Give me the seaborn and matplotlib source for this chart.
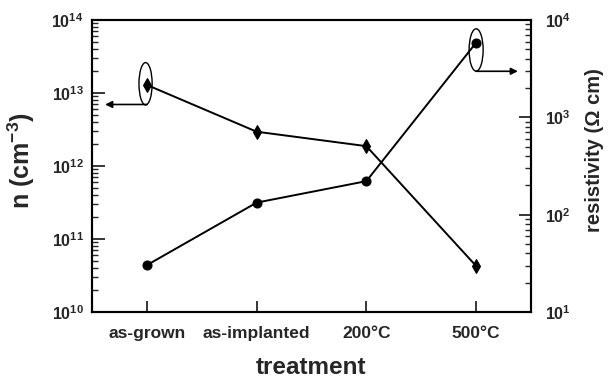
import matplotlib
matplotlib.use("Agg")
import matplotlib.pyplot as plt
import seaborn as sns
import pandas as pd
from matplotlib.patches import Ellipse
from matplotlib.ticker import LogLocator

treatments = ["as-grown", "as-implanted", "200°C", "500°C"]
carrier_n = [1.29e13, 2.95e12, 1.87e12, 4.27e10]
resistivity = [30.3, 133, 221, 5850]

sns.set_style("ticks")
plt.rcParams["font.family"] = ["Liberation Sans", "DejaVu Sans"]
plt.rcParams["font.weight"] = "bold"
plt.rcParams["mathtext.fontset"] = "custom"
plt.rcParams["mathtext.rm"] = "Liberation Sans:bold"
plt.rcParams["mathtext.bf"] = "Liberation Sans:bold"
plt.rcParams["mathtext.it"] = "Liberation Sans:bold"

df = pd.DataFrame({"treatment": treatments, "n": carrier_n, "rho": resistivity})

fig = plt.figure(figsize=(6.09, 3.78), dpi=100)
ax = fig.add_axes([92/609, 66/378, 439/609, 292/378])
ax2 = ax.twinx()

sns.lineplot(data=df, x="treatment", y="n", ax=ax, color="black", marker="d",
             markersize=7.5, markeredgecolor="black", linewidth=1.4, sort=False)
sns.lineplot(data=df, x="treatment", y="rho", ax=ax2, color="black", marker="o",
             markersize=6.5, markeredgecolor="black", linewidth=1.4, sort=False)

ax.set_yscale("log")
ax2.set_yscale("log")
ax.set_ylim(1e10, 1e14)
ax2.set_ylim(1e1, 1e4)
ax.set_xlim(-0.5, 3.5)

ax.set_yticks([1e10, 1e11, 1e12, 1e13, 1e14])
ax.set_yticklabels([r"$10^{10}$", r"$10^{11}$", r"$10^{12}$", r"$10^{13}$", r"$10^{14}$"])
ax2.set_yticks([1e1, 1e2, 1e3, 1e4])
ax2.set_yticklabels([r"$10^{1}$", r"$10^{2}$", r"$10^{3}$", r"$10^{4}$"])
for a in (ax, ax2):
    a.yaxis.set_minor_locator(LogLocator(base=10, subs=range(2, 10), numticks=20))

ax.tick_params(axis="y", which="major", direction="in", length=9, width=1.3,
               labelsize=11.5, pad=6)
ax.tick_params(axis="y", which="minor", direction="in", length=4.5, width=1.0)
ax2.tick_params(axis="y", which="major", direction="in", length=9, width=1.3,
                labelsize=11.5, pad=10)
ax2.tick_params(axis="y", which="minor", direction="in", length=4.5, width=1.0)
ax.tick_params(axis="x", which="major", direction="in", length=8, width=1.3,
               labelsize=12.5, pad=10)
for t in ax.get_xticklabels():
    t.set_fontweight("bold")

for a in (ax, ax2):
    for s in a.spines.values():
        s.set_visible(True)
        s.set_linewidth(1.5)
        s.set_color("black")

ax.set_xlabel("treatment", fontsize=17.5, fontweight="bold")
ax.xaxis.set_label_coords(0.5, -0.152)
ax.set_ylabel(r"n (cm$^{-3}$)", fontsize=18, fontweight="bold")
ax.yaxis.set_label_coords(-0.125, 0.517)
ax2.set_ylabel("resistivity (Ω cm)", fontsize=14.5, fontweight="bold")
ax2.yaxis.set_label_coords(1.123, 0.555)

# annotations: ellipse around marker and arrow pointing to relevant axis
fig.canvas.draw()
def to_axes(axis, x, y):
    disp = axis.transData.transform((x, y))
    return ax.transAxes.inverted().transform(disp)

lx, ly = to_axes(ax, 0, carrier_n[0])
ax.add_patch(Ellipse((lx - 0.003, ly + 0.004), 0.03, 0.145, transform=ax.transAxes,
                     fill=False, edgecolor="black", linewidth=1.0, zorder=5))
ax.annotate("", xy=(0.03, ly - 0.067), xytext=(lx, ly - 0.067),
            xycoords="axes fraction", textcoords="axes fraction",
            arrowprops=dict(arrowstyle="-|>", color="black", lw=1.2,
                            mutation_scale=10, shrinkA=0, shrinkB=0))

rx, ry = to_axes(ax2, 3, resistivity[3])
ax.add_patch(Ellipse((rx, ry - 0.025), 0.032, 0.145, transform=ax.transAxes,
                     fill=False, edgecolor="black", linewidth=1.0, zorder=5))
ax.annotate("", xy=(0.97, ry - 0.098), xytext=(rx, ry - 0.098),
            xycoords="axes fraction", textcoords="axes fraction",
            arrowprops=dict(arrowstyle="-|>", color="black", lw=1.2,
                            mutation_scale=10, shrinkA=0, shrinkB=0))

fig.savefig("out.png", dpi=100)
